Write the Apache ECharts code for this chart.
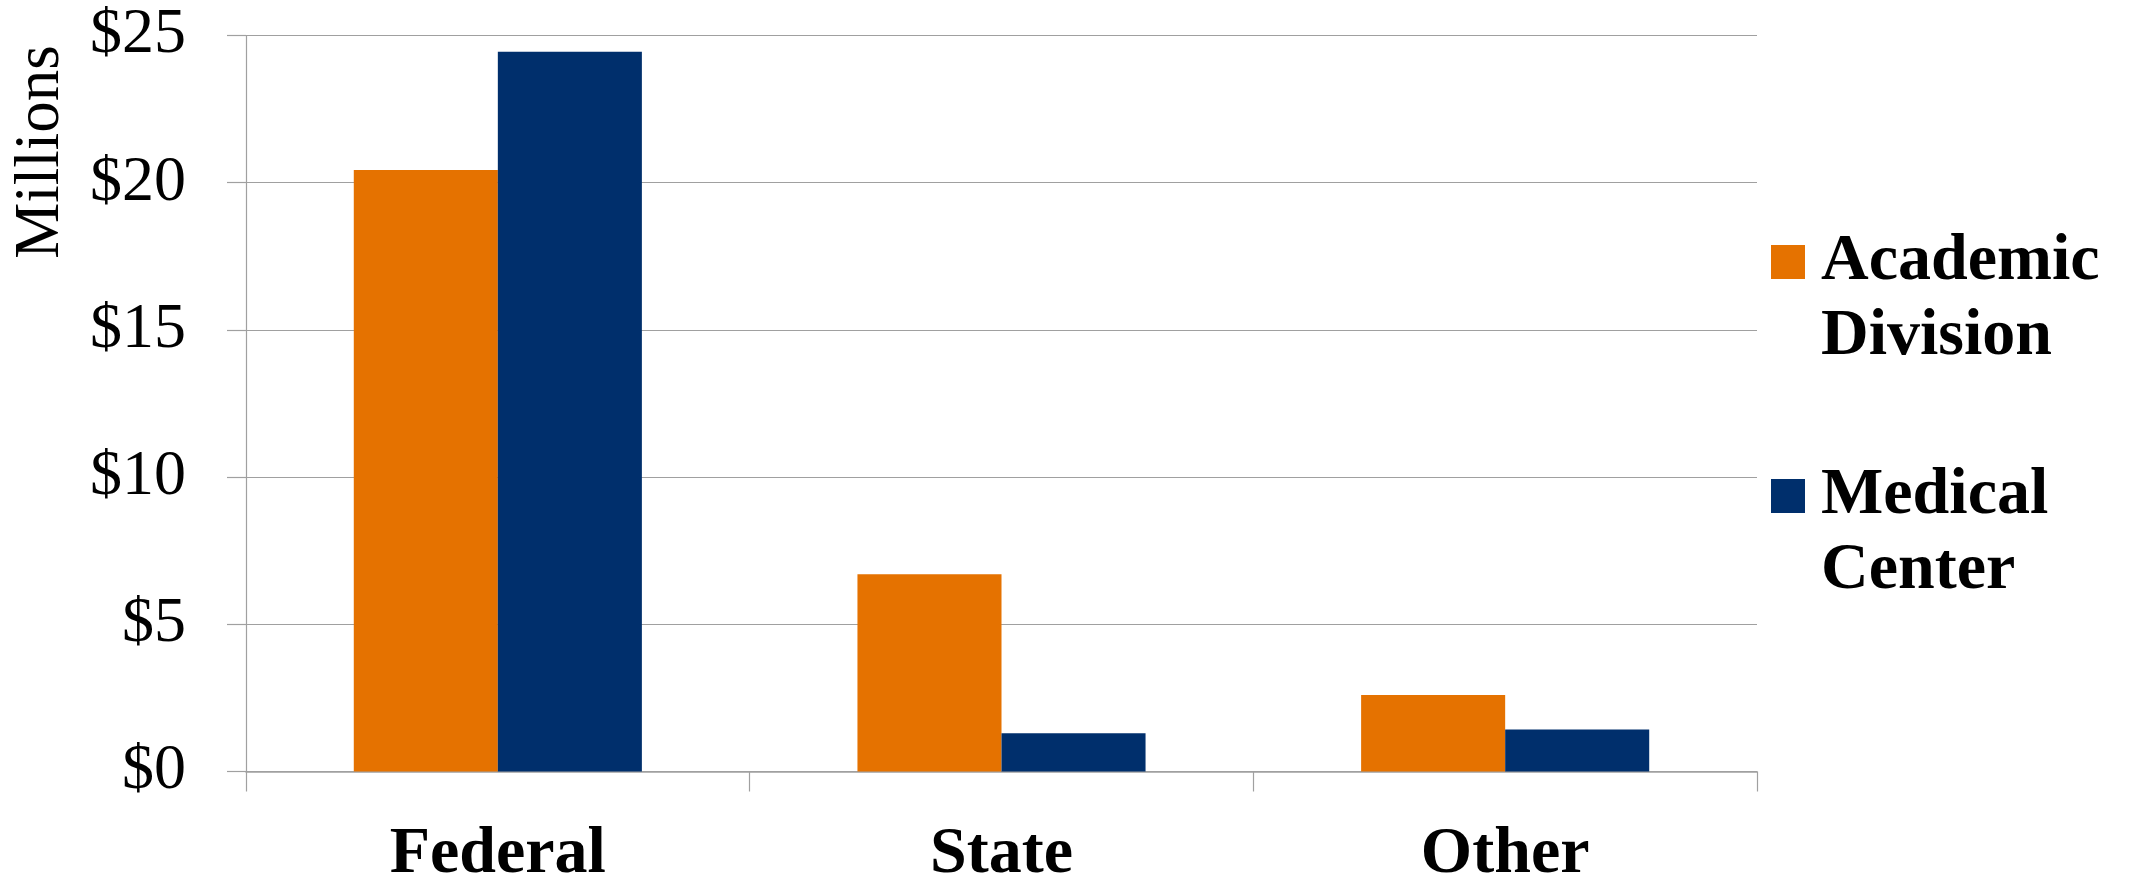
<!DOCTYPE html>
<html>
<head>
<meta charset="utf-8">
<script src="https://cdn.jsdelivr.net/npm/echarts@6/dist/echarts.min.js"></script>
<style>
html,body{margin:0;padding:0;background:#fff;}
#chart{width:2136px;height:880px;}
</style>
</head>
<body>
<div id="chart"></div>
<script>
const categories = ['Federal', 'State', 'Other'];
const academicDivision = [20.43, 6.70, 2.60];
const medicalCenter = [24.45, 1.30, 1.43];
const seriesNames = ['Academic Division', 'Medical Center'];
const legendLines = {
  'Academic Division': ['Academic', 'Division'],
  'Medical Center': ['Medical', 'Center']
};
const yTicks = [0, 5, 10, 15, 20, 25];
const yAxisTitle = 'Millions';

const FONT = '"Liberation Serif", "DejaVu Serif", serif';
const chart = echarts.init(document.getElementById('chart'), null, {renderer: 'canvas'});
chart.setOption({
  animation: false,
  backgroundColor: '#ffffff',
  grid: {left: 246, right: 379, top: 35.5, bottom: 108.5, containLabel: false, outerBoundsMode: 'none'},
  legend: {
    orient: 'vertical',
    left: 1771,
    top: 182,
    padding: 0,
    itemGap: 46,
    itemWidth: 34,
    itemHeight: 34,
    icon: 'rect',
    selectedMode: false,
    data: seriesNames,
    formatter: function (name) {
      const l = legendLines[name];
      return '{s| }\n{a|' + l[0] + '}\n{a|' + l[1] + '}';
    },
    textStyle: {
      fontFamily: FONT,
      fontWeight: 'bold',
      fontSize: 66,
      color: '#000',
      rich: {
        s: {fontSize: 10, lineHeight: 75, fontFamily: FONT},
        a: {fontFamily: FONT, fontWeight: 'bold', fontSize: 66, lineHeight: 75, color: '#000', padding: [0, 0, 0, 11]}
      }
    }
  },
  graphic: [{
    type: 'text',
    x: 41,
    y: 152,
    rotation: Math.PI / 2,
    style: {
      text: yAxisTitle,
      fontFamily: FONT,
      fontSize: 63,
      fill: '#000',
      align: 'center',
      verticalAlign: 'middle'
    }
  }],
  xAxis: {
    type: 'category',
    data: categories,
    axisLine: {show: true, lineStyle: {color: '#a0a0a0', width: 1.5}},
    axisTick: {show: true, length: 20, lineStyle: {color: '#a0a0a0', width: 1.2}},
    axisLabel: {
      fontFamily: FONT,
      fontWeight: 'bold',
      fontSize: 66,
      color: '#000',
      margin: 50
    }
  },
  yAxis: {
    type: 'value',
    min: 0,
    max: 25,
    interval: 5,
    axisLine: {show: true, lineStyle: {color: '#a0a0a0', width: 1.2}},
    axisTick: {show: true, length: 19, lineStyle: {color: '#a0a0a0', width: 1.2}},
    splitLine: {show: true, lineStyle: {color: '#a0a0a0', width: 1.2}},
    axisLabel: {
      fontFamily: FONT,
      fontSize: 64,
      color: '#000',
      margin: 60,
      formatter: function (v) { return yTicks.indexOf(v) >= 0 ? '$' + v : ''; }
    }
  },
  series: [
    {
      name: seriesNames[0],
      type: 'bar',
      data: academicDivision,
      barGap: '0%',
      barCategoryGap: '42.8%',
      itemStyle: {color: '#E57200'}
    },
    {
      name: seriesNames[1],
      type: 'bar',
      data: medicalCenter,
      barGap: '0%',
      barCategoryGap: '42.8%',
      itemStyle: {color: '#002F6C'}
    }
  ]
});
</script>
</body>
</html>
